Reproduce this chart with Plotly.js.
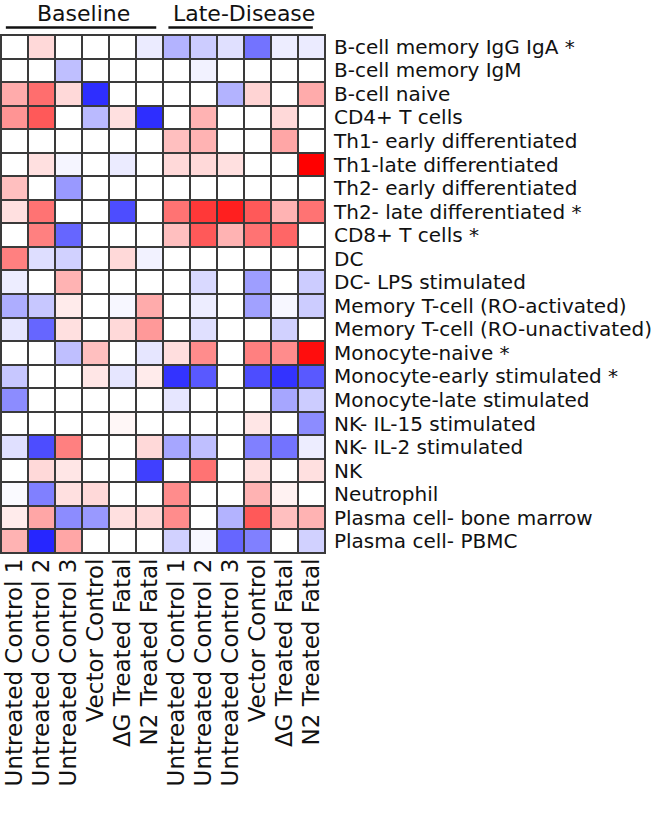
<!DOCTYPE html>
<html>
<head>
<meta charset="utf-8">
<script src="https://cdn.plot.ly/plotly-3.0.1.min.js"></script>
<style>html,body{margin:0;padding:0;background:#fff;}</style>
</head>
<body>
<div id="chart" style="width:671px;height:821px;"></div>
<script>
const sampleLabels = ["Untreated Control 1","Untreated Control 2","Untreated Control 3","Vector Control","ΔG Treated Fatal","N2 Treated Fatal",
                      "Untreated Control 1","Untreated Control 2","Untreated Control 3","Vector Control","ΔG Treated Fatal","N2 Treated Fatal"];
const cellTypes = ["B-cell memory IgG IgA *","B-cell memory IgM","B-cell naive","CD4+ T cells","Th1- early differentiated",
  "Th1-late differentiated","Th2- early differentiated","Th2- late differentiated *","CD8+ T cells *","DC","DC- LPS stimulated",
  "Memory T-cell (RO-activated)","Memory T-cell (RO-unactivated)","Monocyte-naive *","Monocyte-early stimulated *",
  "Monocyte-late stimulated","NK- IL-15 stimulated","NK- IL-2 stimulated","NK","Neutrophil","Plasma cell- bone marrow","Plasma cell- PBMC"];
const groups = ["Baseline","Late-Disease"];

const r01 = [0,0.15,0,0,0,-0.08, -0.3,-0.2,-0.12,-0.55,-0.07,-0.08];
const r02 = [0,0,-0.25,0,0,0, 0,-0.05,0,0,0,0];
const r03 = [0.33,0.57,0.15,-0.82,0,0, 0,0,-0.3,0.17,0,0.33];
const r04 = [0.42,0.65,0,-0.27,0.12,-0.82, 0,0.3,0,0,0.15,0];
const r05 = [0,0,0,0,0,0, 0.25,0.3,0,0,0.35,0];
const r06 = [0,0.12,-0.04,0,-0.08,0, 0.15,0.15,0.12,0,0,1.0];
const r07 = [0.25,0,-0.4,0,0,0, 0,0,0,0,0,0];
const r08 = [0.12,0.55,0,0,-0.7,0, 0.55,0.78,0.88,0.65,0.3,0.55];
const r09 = [0,0.5,-0.6,0,0,0, 0.25,0.65,0.3,0.55,0.6,0];
const r10 = [0.5,-0.13,-0.18,0,0.15,-0.05, 0,0,0,0,0,0];
const r11 = [-0.07,0,0.3,0,0,0, 0,-0.15,0,-0.38,0,-0.2];
const r12 = [-0.32,-0.22,0.08,0,-0.03,0.33, 0,-0.07,0,-0.37,-0.03,-0.2];
const r13 = [-0.1,-0.6,0.12,0,0.15,0.4, 0,-0.12,0,0,-0.18,0];
const r14 = [0,0,-0.25,0.25,0,-0.1, 0.13,0.45,0,0.5,0.45,0.95];
const r15 = [-0.22,0,0,0.1,-0.1,0.08, -0.8,-0.65,0,-0.7,-0.8,-0.65];
const r16 = [-0.45,0,0,0,0,0, -0.1,0,0,0,-0.35,-0.2];
const r17 = [0,0,0,0,0.03,0, 0,0,0,0.1,0,-0.45];
const r18 = [-0.12,-0.7,0.5,0,0,0.15, -0.35,-0.25,0,-0.5,-0.55,-0.07];
const r19 = [0,0.15,0.1,0,0,-0.75, 0,0.55,0,0.12,0,0.12];
const r20 = [-0.02,-0.5,0.12,0.15,0,0, 0.45,0,0,0.3,0.05,0];
const r21 = [0.08,0.35,-0.45,-0.4,0.12,0.15, 0.45,0,-0.3,0.65,0.25,0.3];
const r22 = [0.3,-0.85,0.35,0,0,0, -0.18,-0.03,-0.6,-0.5,0,-0.18];
const zValues = [r01,r02,r03,r04,r05,r06,r07,r08,r09,r10,r11,r12,r13,r14,r15,r16,r17,r18,r19,r20,r21,r22];

const FONT = "DejaVu Sans, Verdana, sans-serif";
const colIdx = sampleLabels.map((s,i)=>i);
const rowIdx = cellTypes.map((s,i)=>i);

const trace = {
  type: "heatmap",
  x: colIdx,
  y: rowIdx,
  z: zValues,
  zmin: -1, zmax: 1,
  colorscale: [[0,"rgb(0,0,255)"],[0.5,"rgb(255,255,255)"],[1,"rgb(255,0,0)"]],
  showscale: false,
  xgap: 2, ygap: 2,
  hoverinfo: "skip"
};

const layout = {
  width: 671, height: 821,
  margin: {l: 1, r: 346, t: 35, b: 268},
  paper_bgcolor: "#ffffff",
  plot_bgcolor: "#3a3a3a",
  font: {family: FONT, color: "#111"},
  xaxis: {
    tickmode: "array", tickvals: colIdx, ticktext: sampleLabels,
    tickangle: -90, ticks: "", showgrid: false, zeroline: false,
    tickfont: {size: 23, family: FONT, color: "#111"},
    ticklabeloverflow: "allow",
    range: [-0.5, 11.5], fixedrange: true
  },
  yaxis: {
    tickmode: "array", tickvals: rowIdx, ticktext: cellTypes,
    side: "right", ticks: "", showgrid: false, zeroline: false,
    tickfont: {size: 20, family: FONT, color: "#111"},
    ticklabeloverflow: "allow",
    range: [21.5, -0.5], fixedrange: true, ticklabelstandoff: 8
  },
  shapes: [
    {type: "rect", xref: "paper", yref: "paper", x0: 0, x1: 1, y0: 0, y1: 1, line: {color: "#3a3a3a", width: 2}},
    {type: "line", xref: "x", yref: "paper", x0: -0.32, x1: 5.25, y0: 1.0145, y1: 1.0145, line: {color: "#111", width: 2.5}},
    {type: "line", xref: "x", yref: "paper", x0: 5.7, x1: 11.05, y0: 1.0145, y1: 1.0145, line: {color: "#111", width: 2.5}}
  ],
  annotations: [
    {text: groups[0], xref: "x", yref: "paper", x: 2.56, y: 1.0676, xanchor: "center", yanchor: "top", borderpad: 0, showarrow: false, font: {size: 22, family: FONT, color: "#111"}},
    {text: groups[1], xref: "x", yref: "paper", x: 8.5, y: 1.0676, xanchor: "center", yanchor: "top", borderpad: 0, showarrow: false, font: {size: 22, family: FONT, color: "#111"}}
  ]
};

Plotly.newPlot("chart", [trace], layout, {displayModeBar: false, staticPlot: true});
</script>
</body>
</html>
